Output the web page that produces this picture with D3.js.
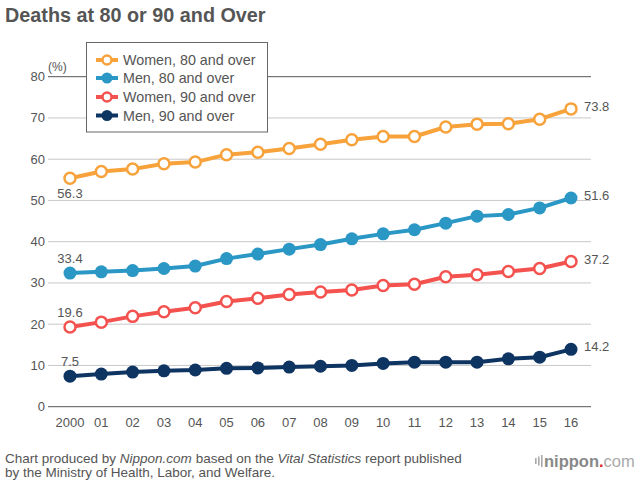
<!DOCTYPE html>
<html>
<head>
<meta charset="utf-8">
<script src="https://cdn.jsdelivr.net/npm/d3@7"></script>
<style>
    body { margin: 0; background: #fff; }
    text { font-family: "Liberation Sans", Arial, sans-serif; }
</style>
</head>
<body>
<script>
let years = ["2000", "01", "02", "03", "04", "05", "06", "07", "08", "09", "10", "11", "12", "13", "14", "15", "16"];
let yTicks = [0, 10, 20, 30, 40, 50, 60, 70, 80];

// values as plotted in the picture
let women80 = [55.4, 57.0, 57.6, 58.9, 59.3, 61.1, 61.7, 62.6, 63.6, 64.7, 65.5, 65.5, 67.8, 68.5, 68.6, 69.7, 72.2];
let men80 = [32.4, 32.7, 33.0, 33.5, 34.1, 35.9, 37.0, 38.2, 39.3, 40.7, 41.9, 42.9, 44.5, 46.2, 46.6, 48.2, 50.6];
let women90 = [19.3, 20.5, 21.9, 23.0, 24.0, 25.5, 26.3, 27.2, 27.8, 28.3, 29.4, 29.7, 31.5, 32.0, 32.8, 33.5, 35.2];
let men90 = [7.4, 7.9, 8.4, 8.7, 8.9, 9.3, 9.4, 9.6, 9.8, 10.0, 10.5, 10.8, 10.8, 10.8, 11.6, 12.0, 13.9];

let seriesNames = ["Women, 80 and over", "Men, 80 and over", "Women, 90 and over", "Men, 90 and over"];
let seriesColors = ["#f7a23b", "#2a97c5", "#f4524f", "#0e3462"];
let seriesHollow = [true, false, true, false];
let firstLabels = ["56.3", "33.4", "19.6", "7.5"];
let lastLabels = ["73.8", "51.6", "37.2", "14.2"];

function getMainNode() {
    let width = 640;
    let height = 480;
    let svg = d3.create("svg").attr("width", width).attr("height", height);

    let x = d3.scalePoint().domain(years).range([70, 571]);
    let y = d3.scaleLinear().domain([0, 80]).range([406.7, 76.7]);

    svg.append("text")
        .attr("x", 5).attr("y", 22)
        .style("font-size", "19.8px").style("font-weight", "bold")
        .style("fill", "#555")
        .text("Deaths at 80 or 90 and Over");

    // grid
    svg.append("g")
        .selectAll("line")
        .data(yTicks)
        .enter()
        .append("line")
        .attr("x1", 48).attr("x2", 591)
        .attr("y1", (d) => y(d)).attr("y2", (d) => y(d))
        .style("stroke", (d) => (d == 0 || d == 80 ? "#555" : "#c8c8c8"))
        .style("stroke-width", 1);

    svg.append("g")
        .selectAll("text")
        .data(yTicks)
        .enter()
        .append("text")
        .attr("x", 45).attr("y", (d) => y(d) + 4.5)
        .attr("text-anchor", "end")
        .style("font-size", "13px").style("fill", "#555")
        .text((d) => d);

    svg.append("text")
        .attr("x", 48).attr("y", 71)
        .style("font-size", "12px").style("fill", "#555")
        .text("(%)");

    svg.append("g")
        .selectAll("text")
        .data(years)
        .enter()
        .append("text")
        .attr("x", (d) => x(d)).attr("y", 427)
        .attr("text-anchor", "middle")
        .style("font-size", "13px").style("fill", "#555")
        .text((d) => d);

    let all = [women80, men80, women90, men90];
    let line = d3.line().x((d, i) => x(years[i])).y((d) => y(d));

    all.forEach((vals, s) => {
        let g = svg.append("g");
        g.append("path")
            .attr("d", line(vals))
            .style("fill", "none")
            .style("stroke", seriesColors[s])
            .style("stroke-width", 4)
            .style("stroke-linejoin", "round");
        g.selectAll("circle")
            .data(vals)
            .enter()
            .append("circle")
            .attr("cx", (d, i) => x(years[i]))
            .attr("cy", (d) => y(d))
            .attr("r", seriesHollow[s] ? 5.5 : 6.5)
            .style("fill", seriesHollow[s] ? "#fff" : seriesColors[s])
            .style("stroke", seriesColors[s])
            .style("stroke-width", seriesHollow[s] ? 2.5 : 0);

        // first value: below for the top line, above for the rest
        let first = vals[0];
        g.append("text")
            .attr("x", x(years[0])).attr("y", s == 0 ? y(first) + 20 : y(first) - 10)
            .attr("text-anchor", "middle")
            .style("font-size", "13px").style("fill", "#555")
            .text(firstLabels[s]);
        g.append("text")
            .attr("x", 584).attr("y", y(vals[vals.length - 1]) + 2)
            .style("font-size", "13px").style("fill", "#555")
            .text(lastLabels[s]);
    });

    // legend
    let legend = svg.append("g");
    legend.append("rect")
        .attr("x", 86.5).attr("y", 42.5)
        .attr("width", 181).attr("height", 89.5)
        .style("fill", "#fff").style("stroke", "#666").style("stroke-width", 1);
    seriesNames.forEach((name, s) => {
        let cy = [60, 78, 97, 115.5][s];
        legend.append("line")
            .attr("x1", 96).attr("x2", 118).attr("y1", cy).attr("y2", cy)
            .style("stroke", seriesColors[s]).style("stroke-width", 4);
        legend.append("circle")
            .attr("cx", 107).attr("cy", cy)
            .attr("r", seriesHollow[s] ? 4.5 : 5.5)
            .style("fill", seriesHollow[s] ? "#fff" : seriesColors[s])
            .style("stroke", seriesColors[s])
            .style("stroke-width", seriesHollow[s] ? 2.5 : 0);
        legend.append("text")
            .attr("x", 123).attr("y", cy + 5)
            .style("font-size", "14.3px").style("fill", "#555")
            .text(name);
    });

    // footer
    let foot = svg.append("text")
        .attr("x", 5).attr("y", 463)
        .style("font-size", "13.5px").style("fill", "#555");
    foot.append("tspan").text("Chart produced by ");
    foot.append("tspan").style("font-style", "italic").text("Nippon.com");
    foot.append("tspan").text(" based on the ");
    foot.append("tspan").style("font-style", "italic").text("Vital Statistics");
    foot.append("tspan").text(" report published");
    svg.append("text")
        .attr("x", 5).attr("y", 477)
        .style("font-size", "13.5px").style("fill", "#555")
        .text("by the Ministry of Health, Labor, and Welfare.");

    // logo
    let logo = svg.append("g");
    [0, 3, 6].forEach((dx, i) => {
        logo.append("rect")
            .attr("x", 535 + dx).attr("y", 461 - [6, 9, 12][i] / 2)
            .attr("width", 1.6).attr("height", [6, 9, 12][i])
            .style("fill", "#aaa");
    });
    let lt = logo.append("text")
        .attr("x", 544).attr("y", 467)
        .style("font-size", "16.5px").style("fill", "#888");
    lt.append("tspan").style("font-weight", "bold").text("nippon");
    lt.append("tspan").style("fill", "#e0242b").style("font-weight", "bold").text(".");
    lt.append("tspan").style("fill", "#aaa").text("com");

    return svg.node();
}

d3.select("body")
    .node()
    .appendChild(getMainNode());
</script>
</body>
</html>
